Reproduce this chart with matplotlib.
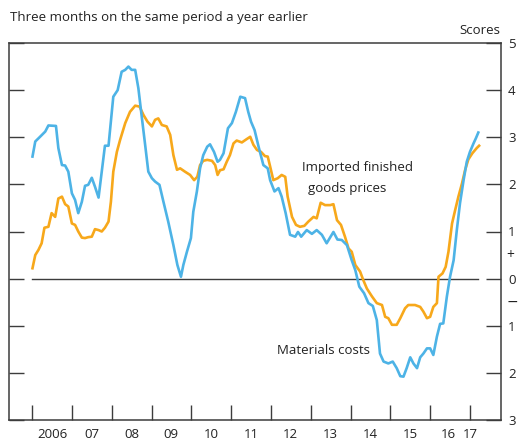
import matplotlib
matplotlib.use("Agg")
import matplotlib.pyplot as plt

plt.rcParams["font.family"] = ["Open Sans", "DejaVu Sans"]

# Dados (anos decimais, scores)
mat_t = [2006.01, 2006.08, 2006.20, 2006.33, 2006.41, 2006.60, 2006.66, 2006.75, 2006.83, 2006.91,
         2007.00, 2007.08, 2007.16, 2007.25, 2007.33, 2007.41, 2007.50, 2007.58, 2007.67, 2007.75,
         2007.83, 2007.92, 2008.04, 2008.15, 2008.25, 2008.34, 2008.42, 2008.50, 2008.59, 2008.67,
         2008.76, 2008.84, 2008.92, 2009.01, 2009.09, 2009.20, 2009.30, 2009.42, 2009.55, 2009.65,
         2009.74, 2009.80, 2009.89, 2009.99, 2010.05, 2010.14, 2010.22, 2010.30, 2010.40, 2010.47,
         2010.57, 2010.66, 2010.72, 2010.81, 2010.92, 2011.02, 2011.12, 2011.23, 2011.35, 2011.43,
         2011.50, 2011.59, 2011.69, 2011.81, 2011.92, 2011.98, 2012.09, 2012.19, 2012.27, 2012.37,
         2012.48, 2012.61, 2012.68, 2012.76, 2012.90, 2013.03, 2013.15, 2013.28, 2013.40, 2013.57,
         2013.67, 2013.78, 2013.91, 2014.03, 2014.12, 2014.22, 2014.34, 2014.45, 2014.56, 2014.66,
         2014.74, 2014.83, 2014.95, 2015.06, 2015.16, 2015.25, 2015.33, 2015.41, 2015.50, 2015.58,
         2015.67, 2015.75, 2015.83, 2015.92, 2016.00, 2016.08, 2016.17, 2016.25, 2016.33, 2016.42,
         2016.50, 2016.59, 2016.67, 2016.75, 2016.84, 2016.92, 2017.00, 2017.09, 2017.15, 2017.21]
mat_v = [2.59, 2.91, 3.01, 3.12, 3.25, 3.24, 2.77, 2.41, 2.40, 2.27,
         1.81, 1.67, 1.39, 1.63, 1.97, 1.99, 2.14, 1.95, 1.72, 2.27,
         2.82, 2.82, 3.86, 4.00, 4.39, 4.43, 4.50, 4.43, 4.43, 4.04,
         3.40, 2.84, 2.27, 2.13, 2.06, 1.99, 1.63, 1.21, 0.71, 0.29,
         0.04, 0.29, 0.57, 0.86, 1.42, 1.85, 2.34, 2.62, 2.80, 2.85,
         2.69, 2.48, 2.52, 2.66, 3.19, 3.30, 3.54, 3.86, 3.83, 3.54,
         3.33, 3.15, 2.80, 2.41, 2.34, 2.09, 1.85, 1.92, 1.74, 1.39,
         0.93, 0.89, 0.99, 0.89, 1.03, 0.95, 1.03, 0.93, 0.75, 0.99,
         0.83, 0.82, 0.71, 0.39, 0.18, -0.17, -0.31, -0.52, -0.58, -0.88,
         -1.59, -1.76, -1.80, -1.76, -1.90, -2.07, -2.08, -1.90, -1.67, -1.80,
         -1.90, -1.67, -1.59, -1.48, -1.48, -1.62, -1.23, -0.96, -0.95, -0.38,
         0.04, 0.39, 1.03, 1.60, 2.09, 2.48, 2.69, 2.87, 2.98, 3.10]

imp_t = [2006.01, 2006.08, 2006.16, 2006.24, 2006.31, 2006.41, 2006.49, 2006.58, 2006.66, 2006.75,
         2006.83, 2006.91, 2007.00, 2007.08, 2007.16, 2007.25, 2007.33, 2007.41, 2007.50, 2007.58,
         2007.67, 2007.75, 2007.83, 2007.92, 2007.98, 2008.04, 2008.13, 2008.21, 2008.34, 2008.46,
         2008.59, 2008.70, 2008.80, 2008.90, 2009.01, 2009.09, 2009.17, 2009.26, 2009.38, 2009.47,
         2009.55, 2009.64, 2009.72, 2009.84, 2009.97, 2010.07, 2010.15, 2010.22, 2010.30, 2010.40,
         2010.52, 2010.60, 2010.66, 2010.72, 2010.81, 2010.89, 2010.97, 2011.06, 2011.14, 2011.27,
         2011.39, 2011.48, 2011.56, 2011.65, 2011.75, 2011.85, 2011.92, 2011.98, 2012.06, 2012.17,
         2012.27, 2012.36, 2012.42, 2012.53, 2012.63, 2012.73, 2012.84, 2012.94, 2013.07, 2013.15,
         2013.25, 2013.36, 2013.49, 2013.57, 2013.66, 2013.76, 2013.86, 2013.95, 2014.03, 2014.12,
         2014.24, 2014.32, 2014.41, 2014.54, 2014.66, 2014.79, 2014.87, 2014.95, 2015.04, 2015.16,
         2015.25, 2015.37, 2015.45, 2015.62, 2015.75, 2015.83, 2015.92, 2016.00, 2016.08, 2016.17,
         2016.21, 2016.31, 2016.39, 2016.46, 2016.55, 2016.63, 2016.71, 2016.80, 2016.88, 2016.96,
         2017.06, 2017.17, 2017.23]
imp_v = [0.22, 0.50, 0.61, 0.75, 1.08, 1.10, 1.39, 1.31, 1.70, 1.74,
         1.58, 1.53, 1.17, 1.14, 1.00, 0.87, 0.86, 0.88, 0.89, 1.05,
         1.03, 1.00, 1.08, 1.21, 1.63, 2.27, 2.69, 2.94, 3.30, 3.54,
         3.67, 3.65, 3.47, 3.33, 3.23, 3.37, 3.40, 3.26, 3.23, 3.05,
         2.62, 2.31, 2.34, 2.27, 2.20, 2.09, 2.16, 2.41, 2.50, 2.52,
         2.50, 2.41, 2.20, 2.30, 2.32, 2.48, 2.62, 2.87, 2.93, 2.89,
         2.96, 3.01, 2.84, 2.73, 2.69, 2.60, 2.59, 2.38, 2.09, 2.13,
         2.20, 2.16, 1.74, 1.31, 1.14, 1.10, 1.12, 1.21, 1.31, 1.28,
         1.61, 1.56, 1.56, 1.58, 1.24, 1.14, 0.89, 0.64, 0.57, 0.29,
         0.15, -0.03, -0.21, -0.38, -0.52, -0.56, -0.81, -0.84, -0.98, -0.98,
         -0.84, -0.63, -0.56, -0.56, -0.60, -0.70, -0.84, -0.81, -0.60, -0.52,
         0.04, 0.11, 0.25, 0.57, 1.17, 1.46, 1.74, 2.02, 2.31, 2.53,
         2.66, 2.77, 2.82]

anos = list(range(2006, 2018))
rotulos_anos = ["2006", "07", "08", "09", "10", "11", "12", "13", "14", "15", "16", "17"]
pos_rotulos = [a + 0.5 for a in anos[:-2]] + [2016.45, 2017.02]

y_ticks = [5, 4, 3, 2, 1, 0, -1, -2, -3]
y_rotulos = ["5", "4", "3", "2", "1", "0", "1", "2", "3"]

azul = "#4db3e6"
laranja = "#f7a81b"
cinza = "#3c3c3c"

fig = plt.figure(figsize=(5.2, 4.43), dpi=100)
ax = fig.add_axes([9 / 520, 23 / 443, 492 / 520, 377 / 443])

ax.plot(imp_t, imp_v, color=laranja, lw=1.9, zorder=3)
ax.plot(mat_t, mat_v, color=azul, lw=1.9, zorder=4)
ax.axhline(0, xmin=0.047, xmax=0.953, color=cinza, lw=1.0, zorder=2)

ax.set_xlim(2005.42, 2017.78)
ax.set_ylim(-3, 5)

for s in ax.spines.values():
    s.set_color(cinza)
    s.set_linewidth(1.1)

# eixo x: ticks nas viradas de ano, rótulos no meio
ax.set_xticks(anos)
ax.set_xticklabels([])
ax.set_xticks(pos_rotulos, minor=True)
ax.set_xticklabels(rotulos_anos, minor=True)
ax.tick_params(axis="x", which="major", direction="in", length=11, width=1.0, color=cinza)
ax.tick_params(axis="x", which="minor", length=0, pad=6, labelsize=9.5, labelcolor="#222222")

# eixo y: rótulos à direita
ax.set_yticks(y_ticks)
ax.set_yticklabels(y_rotulos)
ax.tick_params(axis="y", direction="in", length=11, width=1.0, color=cinza,
               left=True, right=True, labelleft=False, labelright=True,
               pad=5, labelsize=9.5, labelcolor="#222222")
ax.text(1.011, 0.5 / 8 + 3 / 8, "+", transform=ax.transAxes, ha="left", va="center",
        fontsize=10, color="#222222")
ax.text(1.011, -0.5 / 8 + 3 / 8, "\u2212", transform=ax.transAxes, ha="left", va="center",
        fontsize=10, color="#222222", family=["DejaVu Sans"])

fig.text(10 / 520, 1 - 17 / 443, "Three months on the same period a year earlier",
         ha="left", va="center", fontsize=9.5, color="#222222")
fig.text(500 / 520, 1 - 30 / 443, "Scores", ha="right", va="center",
         fontsize=9.5, color="#222222")

ax.text(2012.776, 2.355, "Imported finished", ha="left", va="center", fontsize=9.5, color="#222222")
ax.text(2012.935, 1.92, "goods prices", ha="left", va="center", fontsize=9.5, color="#222222")
ax.text(2012.163, -1.52, "Materials costs", ha="left", va="center", fontsize=9.5, color="#222222")

fig.savefig("out.png", dpi=100)
